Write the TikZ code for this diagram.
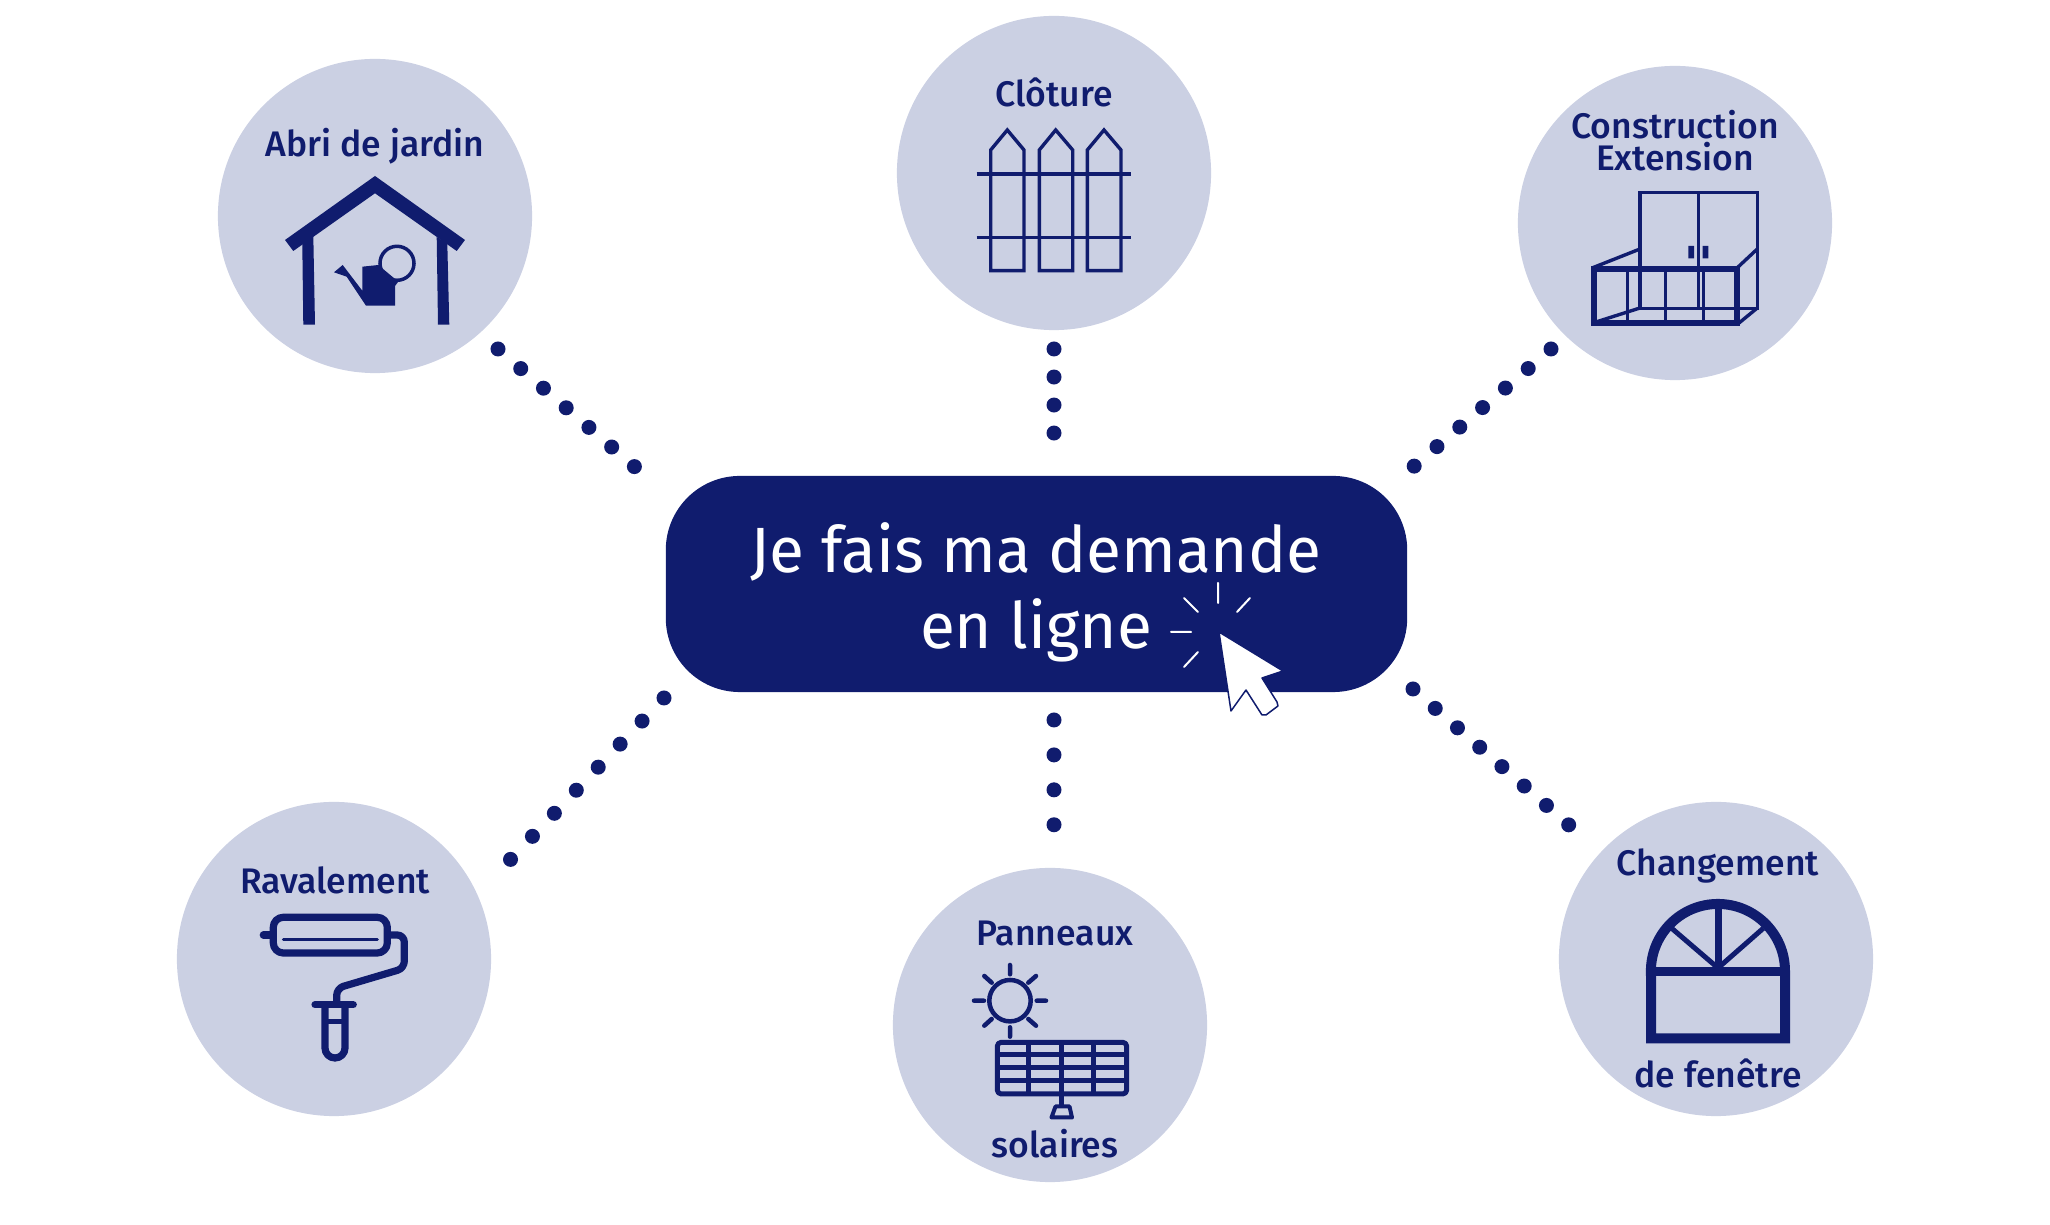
\documentclass[tikz,border=0pt]{standalone}
\usepackage{fontspec}
\setmainfont{Fira Sans}
\newfontfamily\labelfont{Fira Sans Medium}
\usetikzlibrary{positioning}
\definecolor{navy}{RGB}{16,28,110}
\definecolor{pale}{RGB}{203,208,227}
\tikzset{
    bubble/.style={circle,fill=pale,minimum size=3.14cm,inner sep=0pt},
    label text/.style={anchor=base,text=navy,inner sep=0pt,font=\labelfont\fontsize{10.1}{12}\selectfont},
    request/.style={rounded corners=0.74cm,fill=navy,minimum width=7.41cm,minimum height=2.16cm,inner sep=0pt},
    request text/.style={text=white,align=center,inner sep=0pt,font=\fontsize{18.2}{21.6}\selectfont},
    dotline/.style={navy,line width=0.15cm,line cap=round,dash pattern=on 0pt off #1},
    ray/.style={white,line width=0.02cm,line cap=round},
    icon/.style={navy,line width=#1,line join=miter},
    icon/.default=0.034cm,
    soft/.style={navy,line width=#1,line cap=round,line join=round},
    soft/.default=0.072cm
}
\begin{document}
\begin{tikzpicture}[x=0.01cm,y=-0.01cm]
        \useasboundingbox (0,0) rectangle (2050,1225);
        \node[bubble] (abri) at (375,216) {};
        \node[bubble] (cloture) at (1054,173) {};
        \node[bubble] (construction) at (1675,223) {};
        \node[bubble] (ravalement) at (334,959) {};
        \node[bubble] (panneaux) at (1050,1025) {};
        \node[bubble] (changement) at (1716,959) {};
        \node[request] (demande) at (1036.5,584) {};
        \node[request text] (demandetxt) at (1036,592) {Je fais ma demande\\en ligne};

        \coordinate (dotsA) at (498,349);
        \coordinate (dotsB) at (636,468);
        \coordinate (dotsC) at (1054,349);
        \coordinate (dotsD) at (1054,434);
        \coordinate (dotsE) at (1551,349);
        \coordinate (dotsF) at (1412,468);
        \coordinate (dotsG) at (664,698);
        \coordinate (dotsH) at (509,861);
        \coordinate (dotsI) at (1054,720);
        \coordinate (dotsJ) at (1054,826);
        \coordinate (dotsK) at (1413,689);
        \coordinate (dotsL) at (1570,826);
        \draw[dotline=0.3cm] (dotsA) -- (dotsB);
        \draw[dotline=0.28cm] (dotsC) -- (dotsD);
        \draw[dotline=0.3cm] (dotsE) -- (dotsF);
        \draw[dotline=0.318cm] (dotsG) -- (dotsH);
        \draw[dotline=0.349cm] (dotsI) -- (dotsJ);
        \draw[dotline=0.295cm] (dotsK) -- (dotsL);

        \node[label text] (abrilabel) at (375,157) {Abri de jardin};
        \node[label text] (cloturelabel) at (1054,107) {Clôture};
        \node[label text] (constructionlabel) at (1675,139) {Construction};
        \node[label text] (extensionlabel) at (1675,171) {Extension};
        \node[label text] (ravalementlabel) at (335,894) {Ravalement};
        \node[label text] (panneauxlabel) at (1055,946) {Panneaux};
        \node[label text] (solaireslabel) at (1055,1158) {solaires};
        \node[label text] (changementlabel) at (1718,876) {Changement};
        \node[label text] (fenetrelabel) at (1718,1088) {de fenêtre};

        \fill[navy] (375,176) -- (285,240) -- (293.3,251) -- (375,193.3) -- (456.7,251) -- (465,240) -- cycle;
        \fill[navy] (302.3,244) -- (313.3,235) -- (315,324.7) -- (303.3,324.7) -- cycle;
        \fill[navy] (436.7,237) -- (447.3,243) -- (449.3,324.7) -- (438,324.7) -- cycle;
        \draw[icon=0.035cm] (397,263.3) circle (0.17cm);
        \fill[navy] (362.3,266.7) -- (378.3,265) -- (398.3,281.7) -- (395,286) -- (395,305.7) -- (366,305.7)
                -- (346.7,276.7) -- (334,272.3) -- (342.7,265) -- (362.3,290.7) -- cycle;

        \draw[icon] (990.7,270.7) -- (990.7,150) -- (1007.3,130) -- (1024,150) -- (1024,270.7) -- cycle;
        \draw[icon] (1039.3,270.7) -- (1039.3,150) -- (1055.7,130) -- (1072.7,150) -- (1072.7,270.7) -- cycle;
        \draw[icon] (1087.3,270.7) -- (1087.3,150) -- (1104,130) -- (1121,150) -- (1121,270.7) -- cycle;
        \draw[icon] (976.7,174) -- (1131,174) (976.7,237.3) -- (1131,237.3);

        \draw[icon] (1640,192.3) rectangle (1757.3,308.3) (1698.7,192.3) -- (1698.7,308.3);
        \fill[navy] (1688.3,246) rectangle (1694,258.3) (1702.7,246) rectangle (1708.3,258.3);
        \draw[icon] (1592,268) -- (1640,249) (1737,268) -- (1757.3,249) (1596,322) -- (1640,308) (1739,323) -- (1757.3,308);
        \draw[icon] (1627.3,269) -- (1627.3,322) (1665.7,269) -- (1665.7,322) (1703.3,269) -- (1703.3,322);
        \draw[icon=0.06cm] (1594,269.3) rectangle (1736.7,322.7);

        \draw[soft,rounded corners=0.1cm] (273.3,917.3) rectangle (387.3,953);
        \draw[soft=0.03cm] (283.3,939.3) -- (377.3,939.3);
        \draw[soft] (263.3,935) -- (272,935);
        \draw[soft,rounded corners=0.07cm] (390,935) -- (404.3,935) -- (404.3,968.3) -- (336.7,988.3) -- (336.7,1002);
        \draw[soft] (315,1004.7) -- (353.3,1004.7);
        \draw[soft,rounded corners=0.1cm] (325,1006) -- (325,1058) -- (345,1058) -- (345,1006);
        \draw[soft=0.055cm] (325,1021.7) -- (345,1021.7);

        \draw[soft=0.045cm] (1010,1000.7) circle (0.207cm);
        \draw[soft=0.045cm] (1010,965) -- (1010,974.3) (1010,1027.3) -- (1010,1036.7)
                (974,1000.7) -- (984,1000.7) (1036.7,1000.7) -- (1046,1000.7)
                (984.3,976) -- (991.7,982.7) (1036,976) -- (1028.3,982.7)
                (984.3,1025.7) -- (991.7,1019) (1036,1025.7) -- (1028.3,1019);
        \draw[soft=0.05cm,rounded corners=0.04cm] (997.3,1042.3) rectangle (1126.7,1094);
        \draw[icon=0.05cm] (997.3,1055) -- (1126.7,1055) (997.3,1067.7) -- (1126.7,1067.7) (997.3,1081) -- (1126.7,1081)
                (1028,1042.3) -- (1028,1094) (1061.7,1042.3) -- (1061.7,1107) (1093,1042.3) -- (1093,1094);
        \draw[soft=0.04cm] (1051.5,1117.5) -- (1072,1117.5) -- (1069.5,1106.5) -- (1055.5,1106.5) -- cycle;

        \draw[icon=0.05cm] (1718,968) -- (1671.7,928.3) (1718,968) -- (1763.3,928.3);
        \draw[icon=0.07cm] (1718.3,904) -- (1718.3,971.7);
        \draw[icon=0.085cm] (1651,971.7) -- (1785,971.7);
        \draw[icon=0.1cm] (1651,971) -- (1651,1038.3) -- (1785,1038.3) -- (1785,971) arc[start angle=0,end angle=180,radius=0.67cm] -- cycle;

        \draw[ray] (1218,583) -- (1218,603) (1250,598) -- (1237,612) (1184,598) -- (1198,612)
                (1171,632) -- (1191,632) (1198,652) -- (1184,667);
        \draw[fill=white,draw=navy,line width=0.015cm,line join=round] (1219,632) -- (1283,671) -- (1262,678)
                -- (1277,702) -- (1278,706) -- (1266,715) -- (1262,715) -- (1246,690) -- (1231,711) -- cycle;
\end{tikzpicture}
\end{document}
